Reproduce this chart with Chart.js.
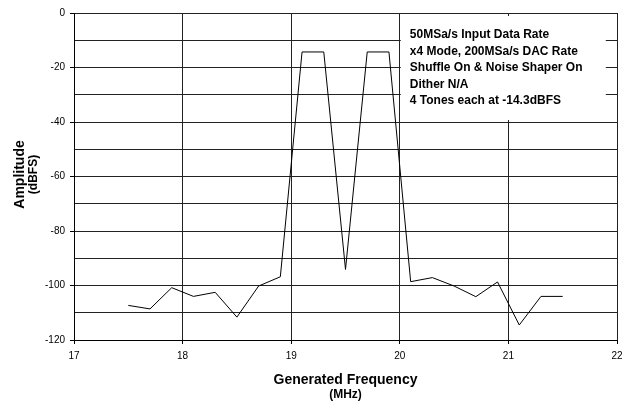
<!DOCTYPE html>
<html>
<head>
<meta charset="utf-8">
<script src="https://cdn.jsdelivr.net/npm/chart.js"></script>
<style>
  html, body { margin: 0; padding: 0; background: #fff; }
  #chart { display: block; }
</style>
</head>
<body>
<canvas id="chart" width="622" height="404"></canvas>
<script>
// generated frequency (MHz) and measured amplitude (dBFS)
var freqs = [17.5, 17.7, 17.9, 18.1, 18.3, 18.5, 18.7, 18.9, 19.1, 19.3, 19.5,
             19.7, 19.9, 20.1, 20.3, 20.5, 20.7, 20.9, 21.1, 21.3, 21.5];
var amplitude = [-107.3, -108.6, -100.8, -104, -102.5, -111.6, -100.2, -96.8, -14.3, -14.3, -94.1,
                 -14.3, -14.3, -98.6, -97.1, -100.2, -104.1, -98.7, -114.5, -104, -104];
var note_lines = [
	'50MSa/s Input Data Rate',
	'x4 Mode, 200MSa/s DAC Rate',
	'Shuffle On & Noise Shaper On',
	'Dither N/A',
	'4 Tones each at -14.3dBFS'
];
var x_title = 'Generated Frequency';
var x_unit = '(MHz)';
var y_title = 'Amplitude';
var y_unit = '(dBFS)';

var font_family = '"Liberation Sans", Arial, sans-serif';

var points = [];
for (var i = 0; i < freqs.length; i++) {
	points.push({x: freqs[i], y: amplitude[i]});
}

// draws axis titles and the settings box
var extras = {
	id: 'extras',
	beforeDatasetsDraw: function(chart) {
		var ctx = chart.ctx;
		var x = chart.scales.x;
		ctx.save();
		// white box over the grid, right of 20 MHz
		var left = x.getPixelForValue(20) + 1;
		ctx.fillStyle = '#fff';
		ctx.fillRect(left, 16, 205, 104);
		ctx.fillStyle = '#000';
		ctx.font = 'bold 12px ' + font_family;
		ctx.textBaseline = 'middle';
		ctx.textAlign = 'left';
		for (var i = 0; i < note_lines.length; i++) {
			ctx.fillText(note_lines[i], left + 9, 35 + i * 16.5);
		}
		ctx.restore();
	},
	afterDraw: function(chart) {
		var ctx = chart.ctx;
		var area = chart.chartArea;
		var cx = (area.left + area.right) / 2;
		var cy = (area.top + area.bottom) / 2;
		ctx.save();
		ctx.fillStyle = '#000';
		ctx.textAlign = 'center';
		ctx.textBaseline = 'middle';
		ctx.font = 'bold 14px ' + font_family;
		ctx.fillText(x_title, cx, 380);
		ctx.font = 'bold 12px ' + font_family;
		ctx.fillText(x_unit, cx, 395);
		ctx.translate(20, cy - 2);
		ctx.rotate(-Math.PI / 2);
		ctx.font = 'bold 14px ' + font_family;
		ctx.fillText(y_title, 0, 0);
		ctx.font = 'bold 12px ' + font_family;
		ctx.fillText(y_unit, 0, 14);
		ctx.restore();
	}
};

new Chart(document.getElementById('chart'), {
	type: 'line',
	data: {
		datasets: [{
			data: points,
			borderColor: '#000',
			borderWidth: 1,
			pointRadius: 0,
			fill: false,
			tension: 0
		}]
	},
	options: {
		responsive: false,
		animation: false,
		layout: { padding: { top: 13, left: 0, right: 0, bottom: 0 } },
		plugins: {
			legend: { display: false },
			tooltip: { enabled: false }
		},
		scales: {
			x: {
				type: 'linear',
				min: 17,
				max: 22,
				ticks: {
					stepSize: 1,
					padding: 6,
					color: '#000',
					font: { family: font_family, size: 10 }
				},
				grid: { color: '#222', tickLength: 4, tickColor: '#000' },
				border: { color: '#000' },
				afterFit: function(scale) {
					scale.height = 64;
					// let the last label run off the edge like the original
					scale.paddingRight = 5;
				}
			},
			y: {
				min: -120,
				max: 0,
				ticks: {
					stepSize: 10,
					padding: 5,
					color: '#000',
					font: { family: font_family, size: 10 },
					callback: function(v) { return v % 20 === 0 ? v : ''; }
				},
				grid: {
					color: '#222',
					tickLength: 4,
					tickColor: function(c) {
						return c.tick && c.tick.value % 20 === 0 ? '#000' : 'rgba(0,0,0,0)';
					}
				},
				border: { color: '#000' },
				afterFit: function(scale) { scale.width = 74; }
			}
		}
	},
	plugins: [extras]
});
</script>
</body>
</html>
